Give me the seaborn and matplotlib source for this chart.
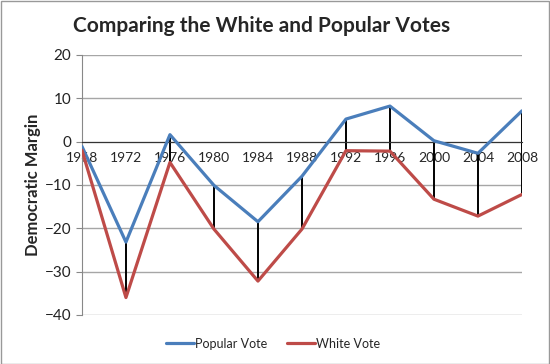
import matplotlib.pyplot as plt
import seaborn as sns
import pandas as pd

years = [1968, 1972, 1976, 1980, 1984, 1988, 1992, 1996, 2000, 2004, 2008]
popular_vote = [-1.1, -23.2, 1.6, -10.1, -18.5, -8.0, 5.2, 8.2, 0.2, -2.7, 7.1]
white_vote = [-2.0, -36.0, -4.8, -20.2, -32.2, -20.2, -2.1, -2.2, -13.3, -17.2, -12.2]

df = pd.DataFrame({
    "Year": years * 2,
    "Margin": popular_vote + white_vote,
    "Series": ["Popular Vote"] * len(years) + ["White Vote"] * len(years),
})

sns.set_style("white")
plt.rcParams["font.family"] = ["Lato", "DejaVu Sans"]

fig = plt.figure(figsize=(5.5, 3.64), dpi=100)
ax = fig.add_axes([0.149, 0.135, 0.8, 0.714])

# connectors between the two series
ax.vlines(years, white_vote, popular_vote, color="black", lw=1.4, zorder=2)

sns.lineplot(data=df, x="Year", y="Margin", hue="Series",
             palette={"Popular Vote": "#4a7ebb", "White Vote": "#be4b48"},
             lw=2.3, ax=ax, legend=True, zorder=3)

ax.set_xlim(1968, 2008)
ax.set_ylim(-40, 20)
ax.set_yticks(range(-40, 21, 10))
ax.set_xticks(years)
ax.set_xticklabels([str(y) for y in years], fontsize=8.5, color="#222222")
ax.yaxis.grid(True, color="#a6a6a6", lw=1)
ax.set_axisbelow(True)

for s in ["top", "right"]:
    ax.spines[s].set_visible(False)
ax.spines["left"].set_color("#888888")
ax.spines["bottom"].set_position(("data", 0))
ax.spines["bottom"].set_color("#333333")
ax.tick_params(axis="x", direction="inout", length=7, color="#333333", pad=4)
ax.tick_params(axis="y", direction="out", length=4, color="#888888",
               labelsize=11, labelcolor="#222222", left=True)

ax.set_xlabel("")
ax.set_ylabel("Democratic Margin", fontsize=12, fontweight="bold", labelpad=3)
fig.suptitle("Comparing the White and Popular Votes", fontsize=15,
             fontweight="bold", x=0.475, y=0.955)

ax.legend(loc="upper center", bbox_to_anchor=(0.435, -0.045), ncol=2,
          frameon=False, fontsize=9, handlelength=2.2, columnspacing=1.6,
          handletextpad=0.1)

# thin grey border around the image
fig.patches.append(plt.Rectangle((0.001, 0.001), 0.997, 0.996, fill=False,
                                 edgecolor="#999999", lw=1,
                                 transform=fig.transFigure))

fig.savefig("out.png", dpi=100)
plt.close(fig)
